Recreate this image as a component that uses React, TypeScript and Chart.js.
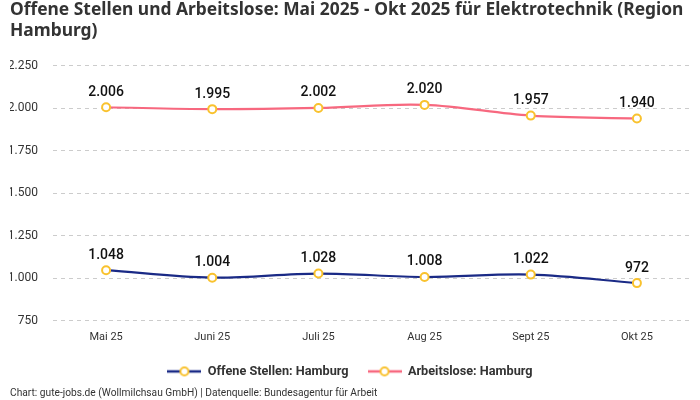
import React, { useEffect, useRef } from "react";
import { Chart, registerables } from "chart.js";

Chart.register(...registerables);

const categories = ["Mai 25", "Juni 25", "Juli 25", "Aug 25", "Sept 25", "Okt 25"];
const offeneStellen = [1048, 1004, 1028, 1008, 1022, 972];
const arbeitslose = [2006, 1995, 2002, 2020, 1957, 1940];
const seriesNames = ["Offene Stellen: Hamburg", "Arbeitslose: Hamburg"];
const titleLines = [
  "Offene Stellen und Arbeitslose: Mai 2025 - Okt 2025 für Elektrotechnik (Region",
  "Hamburg)",
];
const footerText = "Chart: gute-jobs.de (Wollmilchsau GmbH) | Datenquelle: Bundesagentur für Arbeit";

const FONT = "Roboto, 'Noto Sans', sans-serif";
const TITLE_FONT = "'Noto Sans', Roboto, sans-serif";
const NAVY = "#1a2a86";
const PINK = "#f7687f";
const YELLOW = "#f9c22e";

function legendIcon(color: string): HTMLCanvasElement {
  const c = document.createElement("canvas");
  c.width = 34;
  c.height = 12;
  const ctx = c.getContext("2d")!;
  ctx.strokeStyle = color;
  ctx.lineWidth = 2.5;
  ctx.beginPath();
  ctx.moveTo(0, 6);
  ctx.lineTo(34, 6);
  ctx.stroke();
  ctx.beginPath();
  ctx.arc(17, 6, 4, 0, Math.PI * 2);
  ctx.fillStyle = "#fff";
  ctx.fill();
  ctx.strokeStyle = YELLOW;
  ctx.lineWidth = 2;
  ctx.stroke();
  return c;
}

const valueLabels = {
  id: "valueLabels",
  afterDatasetsDraw(chart: any) {
    const ctx = chart.ctx;
    ctx.save();
    ctx.font = `500 14px ${FONT}`;
    ctx.fillStyle = "#111";
    ctx.textAlign = "center";
    ctx.textBaseline = "bottom";
    chart.data.datasets.forEach((ds: any, i: number) => {
      const meta = chart.getDatasetMeta(i);
      meta.data.forEach((pt: any, j: number) => {
        const v = ds.data[j] as number;
        ctx.fillText(v.toLocaleString("de-DE"), pt.x, pt.y - 8);
      });
    });
    ctx.restore();
  },
};

export default function App() {
  const ref = useRef<HTMLCanvasElement>(null);
  useEffect(() => {
    document.body.style.margin = "0";
    const chart = new Chart(ref.current!, {
      type: "line",
      data: {
        labels: categories,
        datasets: [
          {
            label: seriesNames[0],
            data: offeneStellen,
            borderColor: NAVY,
            backgroundColor: NAVY,
            borderWidth: 2.2,
            tension: 0.35,
            pointRadius: 4,
            pointBorderWidth: 2,
            pointBackgroundColor: "#fff",
            pointBorderColor: YELLOW,
          },
          {
            label: seriesNames[1],
            data: arbeitslose,
            borderColor: PINK,
            backgroundColor: PINK,
            borderWidth: 2.2,
            tension: 0.35,
            pointRadius: 4,
            pointBorderWidth: 2,
            pointBackgroundColor: "#fff",
            pointBorderColor: YELLOW,
          },
        ],
      },
      options: {
        animation: false,
        responsive: false,
        layout: { padding: { left: 10, right: 10, top: 0, bottom: 0 } },
        scales: {
          x: {
            offset: true,
            grid: { display: false },
            border: { display: false },
            ticks: { color: "#333", font: { family: FONT, size: 11 }, padding: 2 },
          },
          y: {
            min: 750,
            max: 2250,
            afterFit: (s: any) => {
              s.width = 43;
            },
            border: { display: false, dash: [4, 4] },
            grid: { color: "#cccccc", tickLength: 0 },
            ticks: {
              stepSize: 250,
              color: "#333",
              padding: 15,
              font: { family: FONT, size: 12 },
              callback: (v: any) => Number(v).toLocaleString("de-DE"),
            },
          },
        },
        plugins: {
          title: {
            display: true,
            text: titleLines,
            align: "start",
            color: "#333",
            font: { family: TITLE_FONT, size: 17.4, weight: "bold" },
            padding: { top: 0, bottom: 24 },
          },
          subtitle: {
            display: true,
            position: "bottom",
            align: "start",
            text: footerText,
            color: "#333",
            font: { family: FONT, size: 10.2 },
            padding: { top: 0, bottom: 0 },
          },
          legend: {
            position: "bottom",
            labels: {
              usePointStyle: true,
              pointStyleWidth: 34,
              color: "#333",
              padding: 19,
              font: { family: FONT, size: 12.7, weight: "bold" },
              generateLabels: (ch: any) =>
                ch.data.datasets.map((ds: any, i: number) => ({
                  text: ds.label,
                  pointStyle: legendIcon(ds.borderColor),
                  fontColor: "#333",
                  datasetIndex: i,
                  hidden: false,
                  lineWidth: 0,
                })),
            },
          },
          tooltip: { enabled: false },
        },
      },
      plugins: [valueLabels],
    } as any);
    return () => chart.destroy();
  }, []);
  return (
    <div style={{ width: 700, height: 400, background: "#fff" }}>
      <canvas ref={ref} width={700} height={400} style={{ width: 700, height: 400 }} />
    </div>
  );
}
